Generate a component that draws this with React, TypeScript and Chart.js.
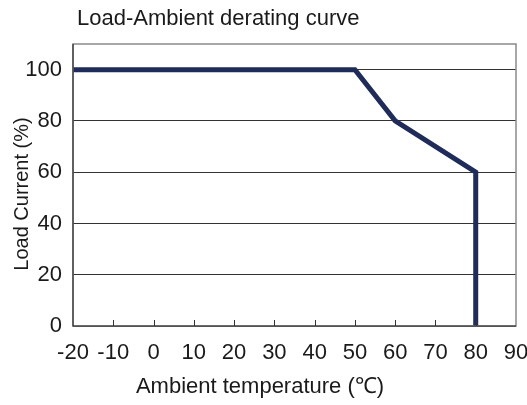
import React, { useEffect, useRef } from 'react';
import { Chart, registerables } from 'chart.js';
Chart.register(...registerables);

const temps = [-20, 50, 60, 80, 80];
const loads = [100, 100, 80, 60, 0];
const xTickValues = [-20, -10, 0, 10, 20, 30, 40, 50, 60, 70, 80, 90];
const yTickValues = [0, 20, 40, 60, 80, 100];
const chartTitle = 'Load-Ambient derating curve';
const xAxisTitle = 'Ambient temperature (℃)';
const yAxisTitle = 'Load Current (%)';

const FONT = "'Liberation Sans', Arial, sans-serif";
const TEXT = '#1a1a1a';

const framePlugin = {
  id: 'frame',
  afterDatasetsDraw(chart: any) {
    const { ctx, chartArea: a, scales } = chart;
    ctx.save();
    ctx.strokeStyle = '#8a8a8a';
    ctx.lineWidth = 1.5;
    ctx.strokeRect(a.left, a.top, a.right - a.left, a.bottom - a.top);
    ctx.strokeStyle = '#333';
    ctx.lineWidth = 1.2;
    ctx.beginPath();
    ctx.moveTo(a.left, a.top);
    ctx.lineTo(a.left, a.bottom);
    ctx.lineTo(a.right, a.bottom);
    ctx.stroke();
    ctx.lineWidth = 1;
    ctx.strokeStyle = '#333';
    xTickValues.slice(1, -1).forEach((v) => {
      const px = Math.round(scales.x.getPixelForValue(v)) + 0.5;
      ctx.beginPath();
      ctx.moveTo(px, a.bottom);
      ctx.lineTo(px, a.bottom - 6);
      ctx.stroke();
    });
    ctx.fillStyle = TEXT;
    ctx.textBaseline = 'middle';
    ctx.textAlign = 'left';
    ctx.font = `22px ${FONT}`;
    ctx.fillText(chartTitle, a.left + 4, 19);
    ctx.textAlign = 'center';
    ctx.fillText(xAxisTitle, 260, 387);
    ctx.font = `20px ${FONT}`;
    ctx.translate(22, 194);
    ctx.rotate(-Math.PI / 2);
    ctx.fillText(yAxisTitle, 0, 0);
    ctx.restore();
  },
};

export default function App() {
  const ref = useRef<HTMLCanvasElement>(null);
  useEffect(() => {
    document.body.style.margin = '0';
    const chart = new Chart(ref.current!, {
      type: 'line',
      data: {
        datasets: [
          {
            data: temps.map((t, i) => ({ x: t, y: loads[i] })),
            borderColor: '#1f2c5a',
            borderWidth: 5,
            pointRadius: 0,
            fill: false,
            tension: 0,
            borderJoinStyle: 'miter',
            clip: 4,
          },
        ],
      },
      plugins: [framePlugin],
      options: {
        animation: false,
        responsive: false,
        maintainAspectRatio: false,
        layout: { padding: { top: 44, right: 11, left: 0, bottom: 0 } },
        plugins: { legend: { display: false }, tooltip: { enabled: false }, title: { display: false } },
        scales: {
          x: {
            type: 'linear',
            min: -20,
            max: 90,
            afterBuildTicks: (s: any) => {
              s.ticks = xTickValues.map((v) => ({ value: v }));
            },
            afterFit: (s: any) => {
              s.height = 79;
              s.paddingLeft = 0;
              s.paddingRight = 0;
            },
            grid: { display: false, drawTicks: false },
            border: { display: false },
            ticks: { color: TEXT, font: { family: FONT, size: 22 }, padding: 14, maxRotation: 0, autoSkip: false },
          },
          y: {
            type: 'linear',
            min: 0,
            max: 110,
            afterBuildTicks: (s: any) => {
              s.ticks = yTickValues.map((v) => ({ value: v }));
            },
            afterFit: (s: any) => {
              s.width = 73;
              s.paddingTop = 0;
              s.paddingBottom = 0;
            },
            grid: { color: '#333', lineWidth: 1, drawTicks: false },
            border: { display: false },
            ticks: { color: TEXT, font: { family: FONT, size: 22 }, padding: 11 },
          },
        },
      },
    } as any);
    return () => chart.destroy();
  }, []);
  return <canvas ref={ref} width={527} height={405} style={{ display: 'block' }} />;
}
